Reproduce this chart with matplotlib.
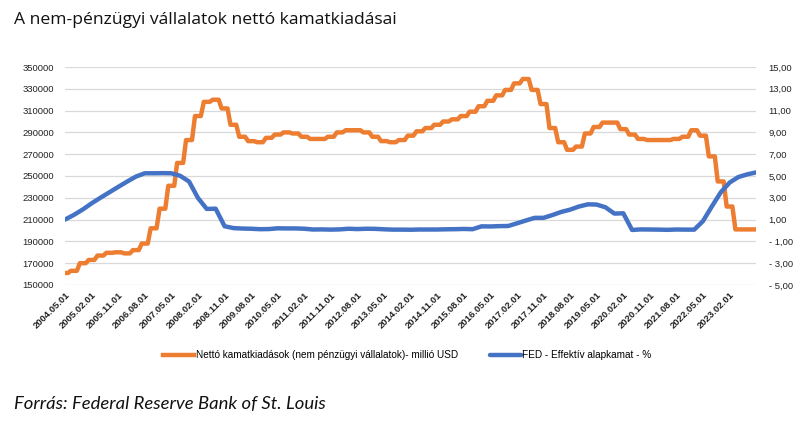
import matplotlib.pyplot as plt
import numpy as np
import pandas as pd

# quarterly points, 2004.05.01 ... 2023.11.01
dates = pd.date_range("2004-05-01", "2023-11-01", freq="3MS")

# net interest paid by non-financial corporations, million USD (quarterly)
net_interest = [
    161000, 163000, 170000, 173000, 177000, 179500, 180000, 179000, 182000, 188000,
    202000, 220000, 241000, 262000, 283000, 305000, 318000, 320000, 312000, 297000,
    286000, 282000, 281000, 285000, 288000, 290000, 289000, 286000, 284000, 284000,
    286000, 290000, 292000, 292000, 290000, 286000, 282000, 281000, 283000, 287000,
    291000, 294000, 297000, 300000, 302000, 305000, 309000, 314000, 319000, 324000,
    329000, 335000, 339000, 329000, 316000, 294000, 281000, 274000, 277000, 289000,
    295000, 299000, 299000, 293000, 288000, 284000, 283000, 283000, 283000, 284000,
    286000, 292000, 287000, 268000, 245000, 222000, 201000, 201000, 201000,
]

# effective federal funds rate, %
fed_rate = [
    1.00, 1.43, 1.93, 2.50, 3.00, 3.50, 4.00, 4.49, 4.94, 5.25,
    5.25, 5.26, 5.25, 5.02, 4.49, 2.98, 1.98, 2.00, 0.39, 0.22,
    0.18, 0.16, 0.12, 0.13, 0.20, 0.19, 0.19, 0.16, 0.09, 0.10,
    0.08, 0.10, 0.16, 0.13, 0.16, 0.15, 0.11, 0.08, 0.08, 0.07,
    0.09, 0.09, 0.09, 0.11, 0.12, 0.14, 0.12, 0.38, 0.37, 0.40,
    0.41, 0.66, 0.91, 1.16, 1.16, 1.42, 1.70, 1.91, 2.20, 2.40,
    2.38, 2.13, 1.55, 1.58, 0.05, 0.10, 0.09, 0.08, 0.06, 0.09,
    0.08, 0.08, 0.85, 2.20, 3.50, 4.40, 4.90, 5.15, 5.33,
]

left_ticks = list(range(150000, 350001, 20000))
right_ticks = list(range(-5, 16, 2))

ORANGE = "#ED7D31"
BLUE = "#4472C4"
TICKFONT = "Liberation Sans"

# quarterly values held over each month, as on the monthly Excel axis
monthly = pd.date_range("2004-04-01", periods=len(net_interest) * 3, freq="MS")
net_interest_m = np.repeat(net_interest, 3)

fig = plt.figure(figsize=(8.07, 4.29), dpi=100)
ax = fig.add_axes([0.0805, 0.3357, 0.8565, 0.5081])
ax2 = ax.twinx()

l1, = ax.plot(monthly, net_interest_m, color=ORANGE, lw=3.2,
              solid_joinstyle="round", label="Nettó kamatkiadások (nem pénzügyi vállalatok)- millió USD")
l2, = ax2.plot(dates, fed_rate, color=BLUE, lw=3.2, solid_joinstyle="round",
               solid_capstyle="round", label="FED - Effektív alapkamat - %")

ax.set_xlim(dates[0], dates[-1])
ax.set_ylim(150000, 350000)
ax2.set_ylim(-5, 15)
ax.set_yticks(left_ticks)
ax.set_yticklabels([str(v) for v in left_ticks], fontsize=6.8, family=TICKFONT, color="#222222")
ax2.set_yticks(right_ticks)


def fmt_right(v):
    s = f"{abs(v):.2f}".replace(".", ",")
    return f"- {s}" if v < 0 else s


ax2.set_yticklabels([fmt_right(v) for v in right_ticks], fontsize=6.8, family=TICKFONT, color="#222222")

ax.grid(axis="y", color="#d9d9d9", lw=0.9)
ax.set_axisbelow(True)
for a in (ax, ax2):
    for s in a.spines.values():
        s.set_visible(False)
    a.tick_params(length=0)
ax.tick_params(axis="y", pad=8)
ax2.tick_params(axis="y", pad=9)

xt = dates[0:76:3]
ax.set_xticks(xt)
ax.set_xticklabels([d.strftime("%Y.%m.%d") for d in xt], rotation=45, ha="right",
                   rotation_mode="anchor", fontsize=6.8, family=TICKFONT,
                   fontweight="bold", color="#222222")
ax.tick_params(axis="x", pad=4)

fig.legend(handles=[l1, l2], loc="center", bbox_to_anchor=(0.505, 0.172), ncol=2,
           frameon=False, prop={"family": TICKFONT, "size": 7.2},
           handlelength=3.1, handletextpad=0.15, columnspacing=3.2)

fig.text(0.017, 0.953, "A nem-pénzügyi vállalatok nettó kamatkiadásai", fontsize=12.6,
         family="Open Sans", color="#111111", va="center")
fig.text(0.017, 0.058, "Forrás: Federal Reserve Bank of St. Louis", fontsize=13.3,
         family="Lato", style="italic", color="#111111", va="center")

fig.savefig("out.png", dpi=100)
